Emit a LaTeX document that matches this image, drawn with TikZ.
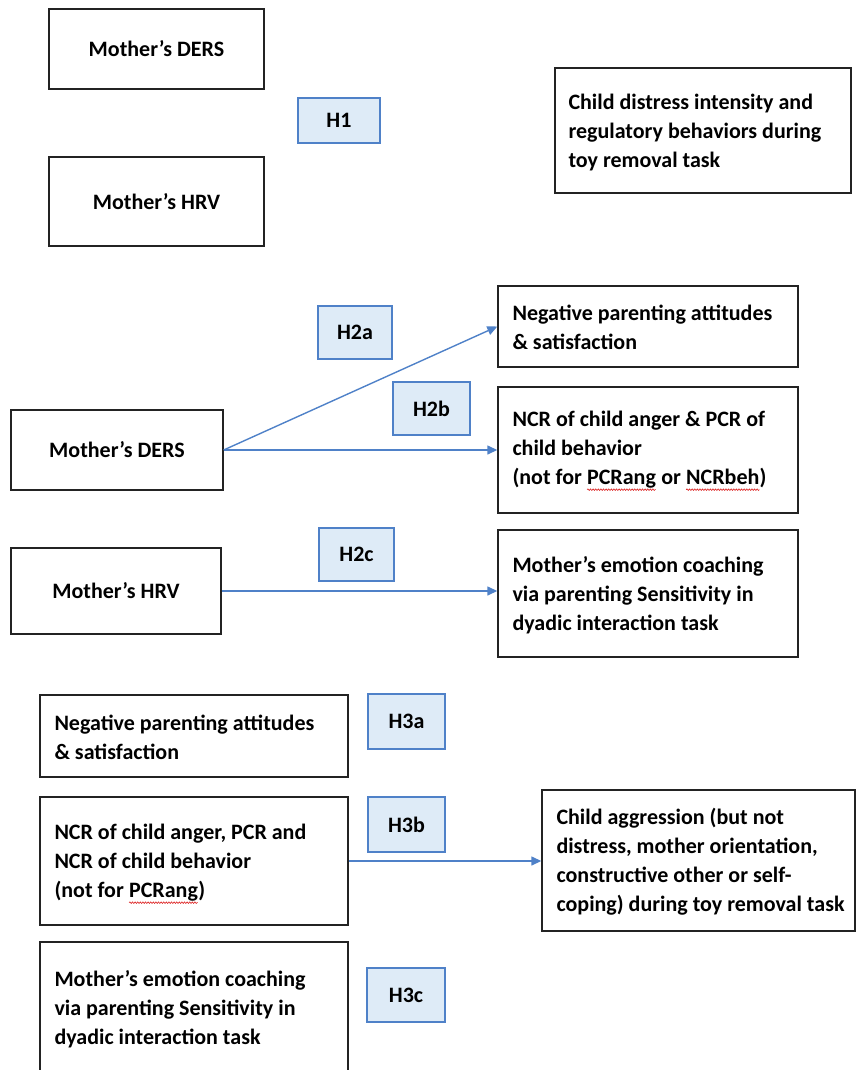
\documentclass[tikz,border=0pt]{standalone}
\usepackage{fontspec}
\setmainfont{Carlito}
\usetikzlibrary{arrows.meta,decorations.pathmorphing}
\definecolor{hblue}{RGB}{79,129,200}
\definecolor{hfill}{RGB}{222,235,247}
\definecolor{boxline}{RGB}{35,35,35}
\definecolor{spellred}{RGB}{220,30,30}
\newcommand\spellmark[2]{\tikz[baseline=(#1.base)]{\node[inner sep=0pt,outer sep=0pt,anchor=base] (#1) {#2};\draw[spellwave] ([yshift=-5pt]#1.base west) -- ([yshift=-5pt]#1.base east);}}
\begin{document}
\begin{tikzpicture}[x=1pt,y=-1pt,
  box/.style={draw=boxline,line width=1.4pt,inner sep=0pt,align=center,font=\fontsize{22}{29}\selectfont\bfseries},
  hbox/.style={draw=hblue,fill=hfill,line width=1.4pt,inner sep=0pt,font=\fontsize{22}{29}\selectfont\bfseries},
  txt/.style={inner sep=0pt,align=left,anchor=west,font=\fontsize{22}{29}\selectfont\bfseries},
  conn/.style={draw=hblue,line width=1.4pt,-{Triangle[length=10pt,width=9pt]}},
  spellwave/.style={draw=spellred,line width=0.6pt,decorate,decoration={snake,amplitude=0.8pt,segment length=2.6pt}}]
\useasboundingbox (0,0) rectangle (857,1070);
\begin{scope}
\clip (0,0) rectangle (857,1070);
% ---- H1 block
\node[box,minimum width=215pt,minimum height=80pt] (ders1) at (156.5,49) {Mother’s DERS};
\node[box,minimum width=215pt,minimum height=89pt] (hrv1) at (156.5,201.5) {Mother’s HRV};
\node[hbox,minimum width=82pt,minimum height=45pt] (h1) at (339,120.5) {H1};
\node[box,minimum width=296pt,minimum height=125pt] (distress) at (703,130.5) {};
\node[txt] (distresst) at ([xshift=14pt,yshift=-2.5pt]distress.west) {Child distress intensity and\\regulatory behaviors during\\toy removal task};
% ---- H2 block
\node[box,minimum width=300pt,minimum height=81pt] (neg2) at (648,326.5) {};
\node[txt] (neg2t) at ([xshift=15pt,yshift=-1pt]neg2.west) {Negative parenting attitudes\\\& satisfaction};
\node[box,minimum width=300pt,minimum height=126pt] (ncr2) at (648,450) {};
\node[txt] (ncr2t) at ([xshift=15pt,yshift=-1pt]ncr2.west) {NCR of child anger \& PCR of\\child behavior\\(not for \spellmark{spa}{PCRang} or \spellmark{spb}{NCRbeh})};
\node[box,minimum width=212pt,minimum height=80pt] (ders2) at (117,450) {Mother’s DERS};
\node[hbox,minimum width=74pt,minimum height=53pt] (h2a) at (355,332.5) {H2a};
\node[hbox,minimum width=77pt,minimum height=53pt] (h2b) at (431.5,408.5) {H2b};
\node[box,minimum width=210pt,minimum height=86pt] (hrv2) at (116,591) {Mother’s HRV};
\node[hbox,minimum width=75pt,minimum height=53pt] (h2c) at (356.5,554.5) {H2c};
\node[box,minimum width=300pt,minimum height=127pt] (emo2) at (648,593.5) {};
\node[txt] (emo2t) at ([xshift=15pt,yshift=-1.5pt]emo2.west) {Mother’s emotion coaching\\via parenting Sensitivity in\\dyadic interaction task};
\draw[conn] (ders2.east) -- (neg2.west);
\draw[conn] (ders2.east) -- (ncr2.west);
\draw[conn] (hrv2.east) -- (emo2.west |- hrv2.east);
% ---- H3 block
\node[box,minimum width=308pt,minimum height=82pt] (neg3) at (194,736) {};
\node[txt] (neg3t) at ([xshift=15pt,yshift=-1.5pt]neg3.west) {Negative parenting attitudes\\\& satisfaction};
\node[hbox,minimum width=77pt,minimum height=55pt] (h3a) at (406.5,721.5) {H3a};
\node[box,minimum width=308pt,minimum height=128pt] (ncr3) at (194,861) {};
\node[txt] (ncr3t) at ([xshift=15pt,yshift=-3pt]ncr3.west) {NCR of child anger, PCR and\\NCR of child behavior\\(not for \spellmark{spc}{PCRang})};
\node[hbox,minimum width=77pt,minimum height=55pt] (h3b) at (406.5,824.5) {H3b};
\node[box,minimum width=313pt,minimum height=141pt] (agg) at (698.5,860.5) {};
\node[txt] (aggt) at ([xshift=15pt,yshift=-1.5pt]agg.west) {Child aggression (but not\\distress, mother orientation,\\constructive other or self-\\coping) during toy removal task};
\node[box,minimum width=308pt,minimum height=132pt] (emo3) at (194,1008) {};
\node[txt] (emo3t) at ([xshift=15pt,yshift=-1.5pt]emo3.west) {Mother’s emotion coaching\\via parenting Sensitivity in\\dyadic interaction task};
\node[hbox,minimum width=78pt,minimum height=54pt] (h3c) at (406,995) {H3c};
\draw[conn] (ncr3.east) -- (agg.west |- ncr3.east);
\end{scope}
\end{tikzpicture}
\end{document}
